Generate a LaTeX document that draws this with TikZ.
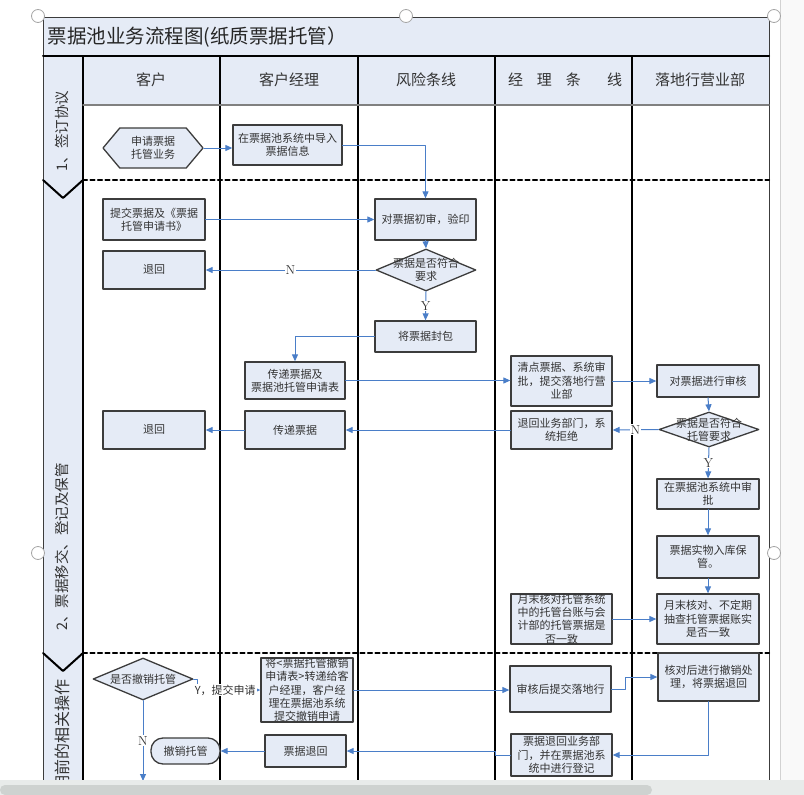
\documentclass[tikz,border=0pt]{standalone}
\usepackage{fontspec}
\newfontfamily\cjk{Noto Sans CJK SC}
\usepackage{tikz}
\usetikzlibrary{arrows.meta}
\usetikzlibrary{shapes.geometric}
\usetikzlibrary{shapes.symbols}
\definecolor{laneblue}{HTML}{E5EBF6}
\definecolor{flowblue}{HTML}{4A7EC8}
\definecolor{boxgray}{HTML}{3C3C3C}
\definecolor{txtgray}{HTML}{333333}
\definecolor{scrollbg}{HTML}{E8EBEA}
\definecolor{scrollthumb}{HTML}{CED2D0}
\tikzset{
  box/.style={draw=boxgray, line width=1.3pt, fill=laneblue, text=txtgray, align=center,
    inner sep=0pt, minimum width=101pt, minimum height=38pt, font=\cjk\fontsize{11}{13.3}\selectfont},
  hexa/.style={box, signal, signal to=west and east, signal pointer angle=100},
  decision/.style={box, diamond, minimum width=100pt, minimum height=42pt},
  dectext/.style={text=txtgray, align=center, inner sep=0pt, font=\cjk\fontsize{11}{13.3}\selectfont},
  terminal/.style={box, rounded corners=12pt},
  lanehead/.style={text=txtgray, font=\cjk\fontsize{15}{18}\selectfont},
  phase/.style={rotate=90, text=txtgray, font=\cjk\fontsize{14.5}{16}\selectfont},
  flow/.style={draw=flowblue, line width=1pt, -{Triangle[length=7pt,width=6pt]}},
  lbl/.style={fill=white, inner sep=1pt, text=txtgray, font=\cjk\fontsize{11}{13}\selectfont},
  yn/.style={fill=white, inner sep=1pt, text=txtgray, font=\fontsize{13}{15}\selectfont}
}
\begin{document}
\begin{tikzpicture}[x=1pt, y=-1pt, line cap=round, line join=round]
  \useasboundingbox (0,0) rectangle (804,795);
  \fill[laneblue] (43,17) rectangle (769,56);
  \fill[laneblue] (83,56) rectangle (769,105);
  \fill[laneblue] (43,56) rectangle (83,795);
  \fill[gray!5] (780,0) rectangle (804,795);
  \draw[gray!35] (780,0) -- (780,795);
  \draw[line width=1pt, boxgray] (43,795) -- (43,17) -- (769,17) -- (769,795);
  \draw[line width=2pt] (43,56) -- (769,56);
  \draw[line width=1.3pt] (83,56) -- (83,795);
  \foreach \x in {220,358,495,632}
    \draw[line width=1.3pt] (\x,56) -- (\x,795);
  \draw[line width=1.5pt, gray] (83,105) -- (769,105);
  \foreach \y in {180,653} {
    \draw[line width=2.2pt, dash pattern=on 4pt off 3.5pt] (83,\y) -- (769,\y);
    \draw[line width=2pt] (43,\y) -- (63,\y+18) -- (83,\y);
  }
  \node[anchor=west, text=black!85, font=\cjk\fontsize{19.5}{22}\selectfont] (title) at (44,37) {票据池业务流程图(纸质票据托管）};
  \node[lanehead] (hcust) at (151,80) {客户};
  \node[lanehead] (hmgr) at (289,80) {客户经理};
  \node[lanehead] (hrisk) at (426,80) {风险条线};
  \node[lanehead] (hline) at (565,80) {经\hspace{14pt}理\hspace{14pt}条\hspace{26pt}线};
  \node[lanehead] (hbranch) at (700,80) {落地行营业部};
  \node[phase] (p1) at (62,131) {1、签订协议};
  \node[phase] (p2) at (62,547) {2、票据移交、登记及保管};
  \node[phase, anchor=east, font=\cjk\fontsize{16}{18}\selectfont] (p3) at (62,676) {期前的相关操作};

  \node[hexa, minimum width=100pt, minimum height=40pt] (apply) at (153,148) {申请票据\\托管业务};
  \node[box, minimum width=109pt, minimum height=40pt] (import) at (287.5,145) {在票据池系统中导入\\票据信息};
  \node[box, minimum width=102pt, minimum height=41pt] (submit) at (154,219.5) {提交票据及《票据\\托管申请书》};
  \node[box, minimum height=41pt] (check) at (425.5,219.5) {对票据初审，验印};
  \node[box, minimum width=102pt] (ret1) at (154,270) {退回};
  \node[decision, label={[dectext]center:票据是否符合\\要求}] (dec1) at (426,270) {};
  \node[box, minimum height=31pt] (seal) at (425.5,336.5) {将票据封包};
  \node[box, minimum width=100pt, minimum height=37pt] (pass) at (295,380.5) {传递票据及\\票据池托管申请表};
  \node[box, minimum height=50pt] (count) at (561.5,381) {清点票据、系统审\\批，提交落地行营\\业部};
  \node[box, minimum width=102pt, minimum height=32pt] (audit) at (708,381) {对票据进行审核};
  \node[decision, minimum height=35pt, label={[dectext]center:票据是否符合\\托管要求}] (dec2) at (709,429.5) {};
  \node[box] (reject) at (561.5,430) {退回业务部门，系\\统拒绝};
  \node[box, minimum width=100pt] (pass2) at (295,430) {传递票据};
  \node[box, minimum width=102pt] (ret2) at (154,430) {退回};
  \node[box, minimum width=102pt, minimum height=30pt] (approve) at (708,494) {在票据池系统中审\\批};
  \node[box, minimum width=102pt, minimum height=42pt] (store) at (708,557) {票据实物入库保\\管。};
  \node[box, minimum width=102pt, minimum height=50pt] (checkr) at (708,619) {月末核对、不定期\\抽查托管票据账实\\是否一致};
  \node[box, minimum height=50pt] (checkm) at (561.5,619) {月末核对托管系统\\中的托管台账与会\\计部的托管票据是\\否一致};

  \node[decision, label={[dectext]center:是否撤销托管}] (dec3) at (143,679) {};
  \node[box, minimum width=92pt, minimum height=64pt] (form) at (307,690) {将<票据托管撤销\\申请表>转递给客\\户经理，客户经\\理在票据池系统\\提交撤销申请};
  \node[box, minimum height=46pt] (review) at (560.5,689) {审核后提交落地行};
  \node[box, minimum height=48pt] (undo) at (708.5,677) {核对后进行撤销处\\理，将票据退回};
  \node[box, minimum height=42pt] (register) at (561.5,755) {票据退回业务部\\门，并在票据池系\\统中进行登记};
  \node[box, minimum width=81pt, minimum height=32pt] (ret3) at (305.5,751) {票据退回};
  \node[terminal, minimum width=69pt, minimum height=26pt] (cancel) at (185.5,751) {撤销托管};
  \coordinate (nend) at (143,781);

  \draw[flow] (apply.east) -- (import.west |- apply.east);
  \draw[flow] (import.east) -| (check.north);
  \draw[flow] (submit.east) -- (check.west);
  \draw[flow] (check.south) -- (dec1.north);
  \draw[flow] (dec1.west) -- node[yn] {N} (ret1.east);
  \draw[flow] (dec1.south) -- node[yn] {Y} (seal.north);
  \draw[flow] (seal.west) -| (pass.north);
  \draw[flow] (pass.east) -- (count.west |- pass.east);
  \draw[flow] (count.east) -- (audit.west);
  \draw[flow] (audit.south) -- (dec2.north);
  \draw[flow] (dec2.west) -- node[yn] {N} (reject.east);
  \draw[flow] (reject.west) -- (pass2.east);
  \draw[flow] (pass2.west) -- (ret2.east);
  \draw[flow] (dec2.south) -- node[yn] {Y} (approve.north);
  \draw[flow] (approve.south) -- (store.north);
  \draw[flow] (store.south) -- (checkr.north);
  \draw[flow] (checkm.east) -- (checkr.west);
  \draw[flow] (dec3.east) -- ++(4,0) |- node[lbl, pos=0.72] {Y，提交申请} (form.west);
  \draw[flow] (form.east) -- (review.west |- form.east);
  \draw[flow] (review.east) -- ++(14,0) |- (undo.west);
  \draw[flow] (undo.south) |- (register.east);
  \draw[flow] (register.west) -- ++(-15,0) |- (ret3.east);
  \draw[flow] (ret3.west) -- (cancel.east);
  \draw[flow] (dec3.south) -- node[yn] {N} (nend);

  \fill[scrollbg] (0,780) rectangle (804,795);
  \fill[scrollthumb, rounded corners=5pt] (0,785) rectangle (652,795);
  \foreach \p in {(38,16),(406,16),(774,16),(38,553),(774,553)}
    \draw[gray!70, fill=white, line width=0.8pt] \p circle (6.5pt);
\end{tikzpicture}
\end{document}
